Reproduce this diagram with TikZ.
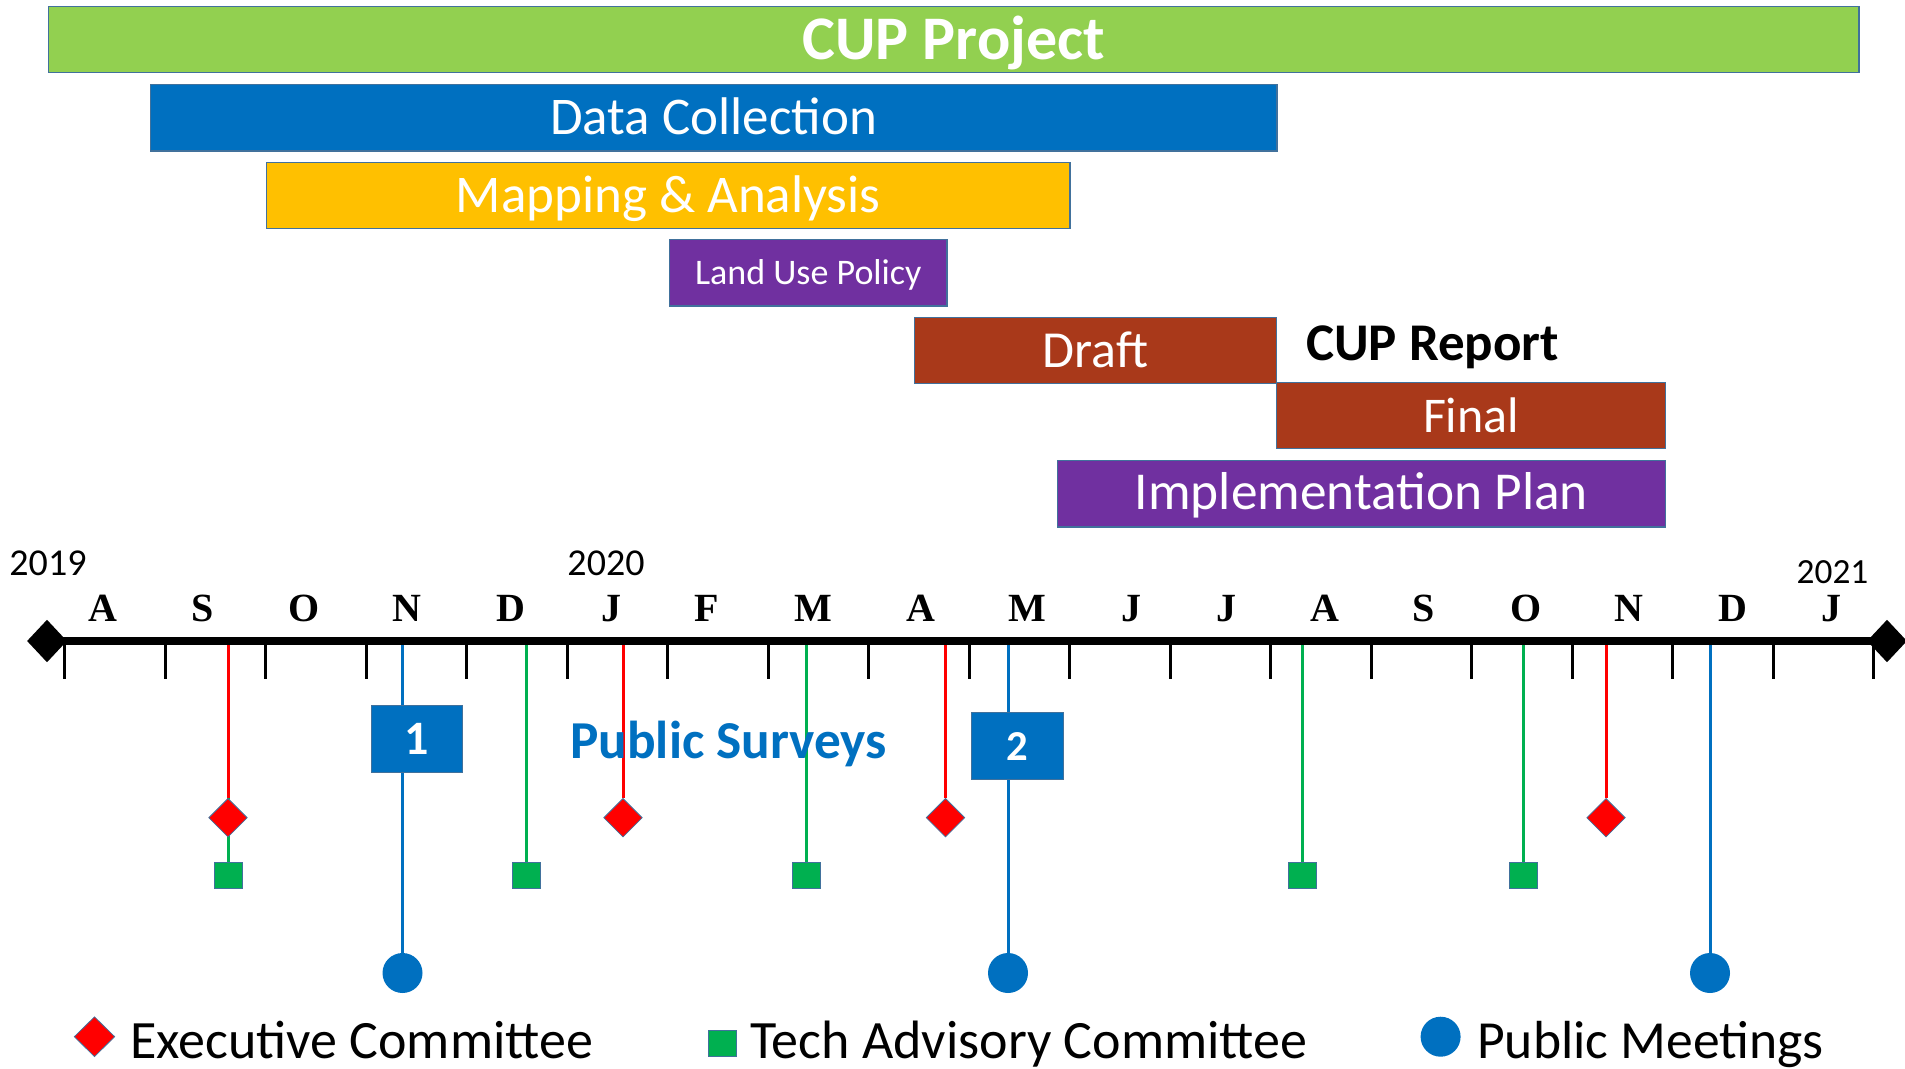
\documentclass[tikz,border=0pt]{standalone}
\usepackage{fontspec}
\setmainfont{Carlito}
\newfontfamily\monthfont{Liberation Serif}
\usetikzlibrary{shapes.geometric,backgrounds}
\newcommand{\myfs}[1]{\fontsize{#1}{#1}\selectfont}
\newcommand{\lowered}[2]{\raisebox{-#1}[\height][\depth]{#2}}
\definecolor{cupgreen}{HTML}{92D050}
\definecolor{dcblue}{HTML}{0070C0}
\definecolor{mapyellow}{HTML}{FFC000}
\definecolor{lupurple}{HTML}{7030A0}
\definecolor{rptbrown}{HTML}{A9391A}
\definecolor{outl}{HTML}{41719C}
\definecolor{exred}{HTML}{FF0000}
\definecolor{tacgreen}{HTML}{00B050}
\begin{document}
\begin{tikzpicture}[x=0.75pt,y=-0.75pt,
 bar/.style={draw=outl, line width=1.1pt, text=white, inner sep=0pt},
 txt/.style={inner sep=0pt, anchor=base west},
 month/.style={inner sep=0pt, anchor=base, font=\monthfont\bfseries\myfs{30}},
 year/.style={inner sep=0pt, anchor=base},
 exmark/.style={diamond, fill=exred, draw=outl, line width=0.6pt, inner sep=0pt, minimum width=29pt, minimum height=29pt},
 tacmark/.style={rectangle, fill=tacgreen, draw=outl, line width=0.6pt, inner sep=0pt, minimum width=21pt, minimum height=20pt},
 pmmark/.style={circle, fill=dcblue, inner sep=0pt, minimum size=30pt},
 numbox/.style={rectangle, fill=dcblue, draw=outl, line width=0.6pt, text=white, inner sep=0pt, minimum width=68.5pt, minimum height=50pt},
 exline/.style={draw=exred, line width=2.25pt},
 tacline/.style={draw=tacgreen, line width=2.25pt},
 pmline/.style={draw=dcblue, line width=2.25pt},
 axtick/.style={draw=black, line width=2.4pt},
 enddia/.style={diamond, fill=black, inner sep=0pt, minimum width=30pt, minimum height=32pt}
]
\useasboundingbox (0,0) rectangle (1905,1068);

% bars
\node[bar, fill=cupgreen, minimum width=1357.9pt, minimum height=49.5pt, font=\bfseries\myfs{46.5}] (cup) at (953.75,39.7) {\lowered{2.7pt}{CUP Project}};
\node[bar, fill=dcblue, minimum width=845pt, minimum height=50pt, font=\myfs{39.75}] (data) at (713.65,117.65) {\lowered{-0.8pt}{Data Collection}};
\node[bar, fill=mapyellow, minimum width=602.6pt, minimum height=49.8pt, font=\myfs{39.75}] (map) at (668.3,195.5) {\lowered{2.5pt}{Mapping \& Analysis}};
\node[bar, fill=lupurple, minimum width=208.1pt, minimum height=50pt, font=\myfs{27}] (lup) at (808.25,272.65) {\lowered{1.5pt}{Land Use Policy}};
\node[bar, fill=rptbrown, minimum width=271.5pt, minimum height=49.2pt, font=\myfs{39}] (draft) at (1095.6,350.5) {\lowered{-0.6pt}{Draft}};
\node[bar, fill=rptbrown, minimum width=291.75pt, minimum height=49.5pt, font=\myfs{37.5}] (final) at (1471.1,415.7) {Final};
\node[bar, fill=lupurple, minimum width=456.2pt, minimum height=50pt, font=\myfs{40}] (impl) at (1361.45,493.65) {\lowered{1pt}{Implementation Plan}};
\node[txt, font=\bfseries\myfs{39.75}] (report) at (1306,360) {CUP Report};

% years
\node[year, font=\myfs{28.5}] (y2019) at (48,575) {2019};
\node[year, font=\myfs{28.5}] (y2020) at (606,575) {2020};
\node[year, font=\myfs{26.5}] (y2021) at (1832.5,583) {2021};

% months
\foreach \m/\xx [count=\i] in {A/103,S/202.5,O/303.7,N/407,D/511,J/611.5,F/707,M/813,A/920.5,M/1027.5,J/1131.5,J/1226,A/1325,S/1423.5,O/1526,N/1629,D/1733,J/1831.5}
  \node[month] (mon\i) at (\xx,621) {\m};

% ticks
\foreach \k in {0,...,18}
  \draw[axtick] (64.7+100.5*\k,641) -- ++(0,38);

% axis
\node[enddia] (ldia) at (47,641) {};
\node[enddia] (rdia) at (1887,641) {};
\draw[line width=6.5pt] (ldia.center) -- (rdia.center);

% axis anchor points
\coordinate (tax1) at (228.5,641);
\coordinate (tax2) at (526.5,641);
\coordinate (tax3) at (806.5,641);
\coordinate (tax4) at (1302.5,641);
\coordinate (tax5) at (1523,641);
\coordinate (eax1) at (228,641);
\coordinate (eax2) at (623,641);
\coordinate (eax3) at (945.5,641);
\coordinate (eax4) at (1606,641);
\coordinate (pax1) at (402.5,641);
\coordinate (pax2) at (1008,641);
\coordinate (pax3) at (1710,641);

% markers
\node[tacmark] (tac1) at (228.5,875.4) {};
\node[tacmark] (tac2) at (526.5,875.4) {};
\node[tacmark] (tac3) at (806.5,875.4) {};
\node[tacmark] (tac4) at (1302.5,875.4) {};
\node[tacmark] (tac5) at (1523,875.4) {};
\node[exmark] (ex1) at (228,817.7) {};
\node[exmark] (ex2) at (623,817.7) {};
\node[exmark] (ex3) at (945.5,817.7) {};
\node[exmark] (ex4) at (1606,817.7) {};
\node[pmmark] (pm1) at (402.5,973) {};
\node[pmmark] (pm2) at (1008,973) {};
\node[pmmark] (pm3) at (1710,973) {};
\node[numbox, font=\bfseries\myfs{36}] (box1) at (416.7,739) {1};
\node[numbox, font=\bfseries\myfs{32}] (box2) at (1017.3,746) {2};
\node[txt, text=dcblue, font=\bfseries\myfs{40}] (surveys) at (570,758) {Public Surveys};

\begin{scope}[on background layer]
  \foreach \i in {1,...,5} \draw[tacline] (tax\i) -- (tac\i.north);
  \foreach \i in {1,...,4} \draw[exline] (eax\i) -- (ex\i.north);
  \foreach \i in {1,...,3} \draw[pmline] (pax\i) -- (pm\i.north);
\end{scope}

% legend
\node[exmark, minimum width=30.5pt, minimum height=30pt] (legex) at (94.5,1036.7) {};
\node[txt, font=\myfs{40.5}] (legextxt) at (130,1058) {Executive Committee};
\node[tacmark, minimum height=19pt] (legtac) at (722,1043.5) {};
\node[txt, font=\myfs{40.5}] (legtactxt) at (750,1058) {Tech Advisory Committee};
\node[pmmark] (legpm) at (1440.6,1036.7) {};
\node[txt, font=\myfs{40.2}] (legpmtxt) at (1477,1058) {Public Meetings};
\end{tikzpicture}
\end{document}
